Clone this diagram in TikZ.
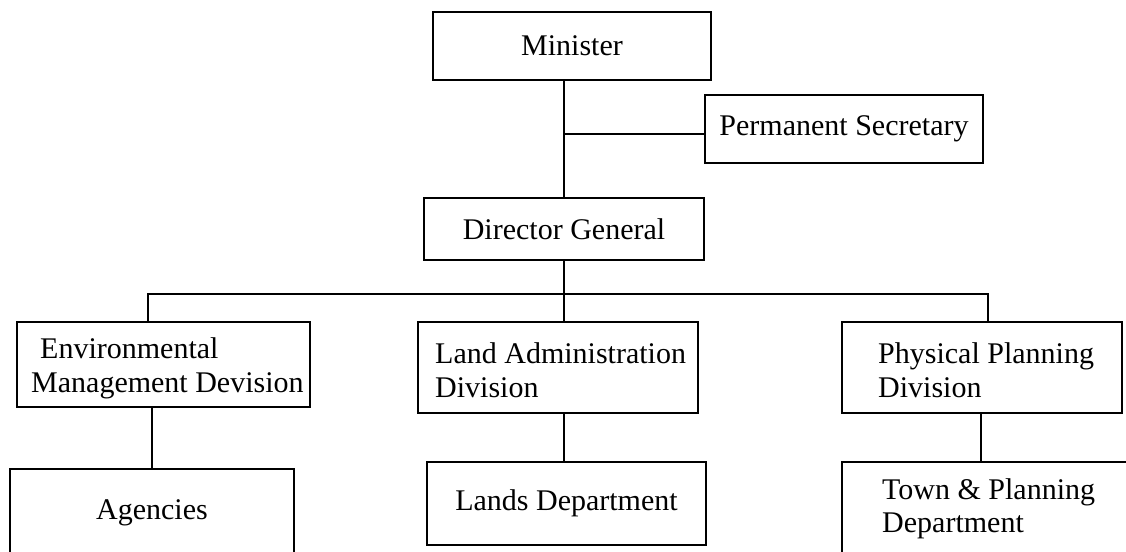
\documentclass[tikz,border=0pt]{standalone}
\usepackage{fontspec}
\setmainfont{Liberation Serif}
\usepackage{tikz}
\usetikzlibrary{calc}

\begin{document}
\begin{tikzpicture}[
  x=1pt,y=-1pt,
  box/.style={draw,line width=1.5pt,inner sep=0pt,font=\fontsize{30}{34}\selectfont},
  txt/.style={anchor=base west,inner sep=0pt,font=\fontsize{30}{34}\selectfont},
  link/.style={line width=1.5pt}
  ]
\useasboundingbox (0,0) rectangle (1126,551);
\clip (0,0) rectangle (1126,551);
\def\bary{294}
\def\xa{148}
\def\xb{564}
\def\xc{988}
% top of the chart
\node[box,minimum width=278pt,minimum height=68pt] (min) at (572,46) {Minister};
\node[box,minimum width=278pt,minimum height=68pt] (perm) at (844,129) {Permanent Secretary};
\node[box,minimum width=280pt,minimum height=62pt] (dg) at (\xb,229) {Director General};
% divisions
\node[box,minimum width=293pt,minimum height=85pt] (env) at (163.5,364.5) {};
\node[box,minimum width=280pt,minimum height=91pt] (land) at (558,367.5) {};
\node[box,minimum width=280pt,minimum height=91pt] (phys) at (982,367.5) {};
\node[txt] (envA) at (40,358) {Environmental};
\node[txt] (envB) at (31,392) {Management Devision};
\node[txt] (landA) at (435,363) {Land Administration};
\node[txt] (landB) at (435,397) {Division};
\node[txt] (physA) at (878,363) {Physical Planning};
\node[txt] (physB) at (878,397) {Division};
% departments
\node[box,minimum width=284pt,minimum height=88pt] (agen) at (152,513) {Agencies};
\node[box,minimum width=279pt,minimum height=83pt] (lands) at (566.5,503.5) {Lands Department};
\node[box,minimum width=300pt,minimum height=100pt] (town) at (992,512) {};
\node[txt] (townA) at (882,499) {Town \& Planning};
\node[txt] (townB) at (882,532) {Department};
% connectors
\coordinate (br) at (\xb,134);
\coordinate (ca) at (\xa,\bary);
\coordinate (cb) at (\xb,\bary);
\coordinate (cc) at (\xc,\bary);
\coordinate (dc) at (981,413);
\draw[link] (dg.north |- min.south) -- (dg.north);
\draw[link] (br) -- (br -| perm.west);
\draw[link] (dg.south) -- (cb);
\draw[link] (ca |- env.north) -- (ca) -- (cc) -- (cc |- phys.north);
\draw[link] (cb) -- (cb |- land.north);
\draw[link] (agen.north |- env.south) -- (agen.north);
\draw[link] (cb |- land.south) -- (cb |- lands.north);
\draw[link] (dc) -- (dc |- town.north);
\end{tikzpicture}
\end{document}
